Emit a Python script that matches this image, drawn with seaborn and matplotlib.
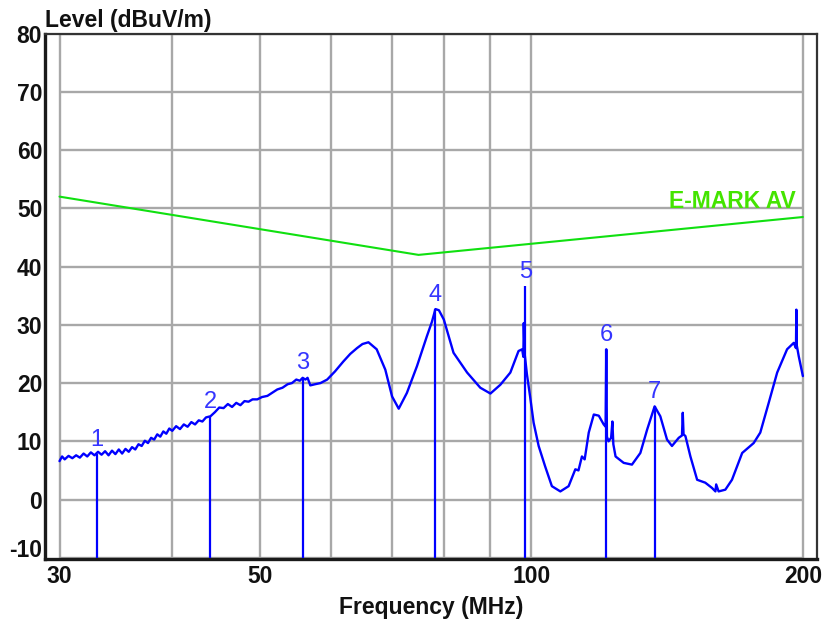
import numpy as np
import pandas as pd
import matplotlib
matplotlib.use("Agg")
import matplotlib.pyplot as plt
import matplotlib.transforms as mtransforms
import seaborn as sns

# ---- data ----
trace_freq = [30.0, 30.2, 30.4, 30.7, 31.0, 31.3, 31.6, 31.9, 32.2, 32.5, 32.8,
              33.1, 33.4, 33.7, 34.0, 34.3, 34.6, 34.9, 35.2, 35.5, 35.8, 36.1,
              36.4, 36.7, 37.0, 37.3, 37.6, 37.9, 38.2, 38.5, 38.8, 39.1, 39.4,
              39.7, 40.0, 40.4, 40.8, 41.2, 41.6, 42.0, 42.4, 42.8, 43.2, 43.6,
              44.1, 44.6, 45.1, 45.6, 46.1, 46.6, 47.1, 47.6, 48.1, 48.6, 49.1,
              49.7, 50.3, 51.0, 51.7, 52.3, 53.0, 53.7, 54.3, 54.9, 55.4, 55.8,
              56.2, 56.5, 56.9, 57.6, 58.4, 59.4, 60.6,
              61.9, 63.0, 64.1, 65.0, 66.0, 67.4, 68.9, 70.1, 71.3, 72.8, 74.7,
              76.6, 77.6, 78.3, 79.0, 80.0, 82.0, 84.9, 87.8, 90.1, 92.4, 94.8,
              96.8, 97.7, 98.0, 98.1, 98.3, 98.9, 99.7, 100.6, 101.9, 103.6,
              105.4, 107.7, 110.0, 111.9, 112.8, 113.8, 114.6, 115.8, 117.3,
              118.8, 120.3, 120.9, 121.1, 121.3, 121.8, 122.6, 123.0, 123.3,
              124.0, 126.6, 129.3, 132.1, 134.4, 137.0, 139.0, 141.4, 143.2,
              145.7, 146.9, 147.2, 147.5, 148.2, 150.1, 152.7, 155.9, 158.6,
              160.0, 160.3, 161.3, 164.1, 166.9, 171.3, 176.4, 179.4, 183.3,
              187.3, 192.1, 195.4, 196.5, 196.7, 196.9, 197.9, 200.0]
trace_level = [6.6, 7.4, 6.9, 7.5, 7.1, 7.6, 7.2, 7.9, 7.4, 8.1, 7.6,
               8.2, 7.7, 8.3, 7.6, 8.4, 7.8, 8.6, 7.9, 8.7, 8.2, 9.0,
               8.6, 9.5, 9.2, 10.1, 9.7, 10.6, 10.3, 11.2, 10.8, 11.7, 11.3,
               12.2, 11.8, 12.6, 12.1, 12.9, 12.5, 13.3, 12.9, 13.6, 13.4, 14.1,
               14.3, 15.0, 15.8, 15.7, 16.4, 15.9, 16.6, 16.2, 16.9, 16.8, 17.2,
               17.2, 17.6, 17.8, 18.4, 18.9, 19.2, 19.8, 20.0, 20.6, 20.4, 20.9,
               20.6, 20.9, 19.6, 19.8, 20.0, 20.6, 22.0,
               23.7, 25.0, 26.0, 26.7, 27.0, 25.8, 22.3, 17.7, 15.6, 18.3, 22.9,
               28.0, 30.5, 32.7, 32.5, 30.9, 25.2, 21.8, 19.2, 18.2, 19.7, 21.8,
               25.5, 25.8, 24.5, 30.3, 25.2, 21.5, 17.7, 13.2, 9.2, 5.7,
               2.3, 1.4, 2.3, 5.2, 5.0, 7.4, 6.9, 11.5, 14.6,
               14.4, 12.9, 12.5, 25.8, 10.8, 10.0, 10.6, 13.4, 9.5,
               7.4, 6.3, 6.0, 8.0, 12.0, 16.0, 14.3, 10.3, 9.2,
               10.6, 11.0, 14.9, 11.2, 10.9, 7.4, 3.4, 2.9, 2.0,
               1.4, 2.6, 1.4, 1.7, 3.4, 8.0, 9.7, 11.5, 16.6,
               21.8, 25.8, 26.9, 26.0, 32.6, 26.5, 24.6, 21.2]

limit_freq = [30.0, 75.0, 200.0]
limit_level = [52.0, 42.0, 48.5]
limit_name = "E-MARK AV"

marker_ids = ["1", "2", "3", "4", "5", "6", "7"]
marker_freq = [33.0, 44.1, 55.8, 78.3, 98.5, 121.1, 137.0]
marker_level = [7.8, 14.3, 20.9, 32.7, 36.6, 25.8, 16.0]

x_ticks = [30, 50, 100, 200]
x_tick_labels = ["30", "50", "100", "200"]
y_ticks = [-10, 0, 10, 20, 30, 40, 50, 60, 70, 80]
grid_freqs = [30, 40, 50, 60, 70, 80, 90, 100, 200]
x_label = "Frequency (MHz)"
y_label = "Level (dBuV/m)"

# ---- style ----
sns.set_style("white")
plt.rcParams["font.family"] = ["Liberation Sans", "DejaVu Sans"]

fig = plt.figure(figsize=(8.24, 6.2), dpi=100)
ax = fig.add_axes([45 / 824, 61 / 620, 772.3 / 824, 525.5 / 620])

ax.set_xscale("log")
ax.set_xlim(28.91, 207.5)
ax.set_ylim(-10.2, 80)

grid_c = "#a8a8a8"
ax.vlines(grid_freqs, -10, 80, colors=grid_c, linewidth=1.7, zorder=1)
ax.hlines(y_ticks, 30, 200, colors=grid_c, linewidth=1.7, zorder=1)

trace_df = pd.DataFrame({"freq": trace_freq, "level": trace_level})
limit_df = pd.DataFrame({"freq": limit_freq, "level": limit_level})

sns.lineplot(data=limit_df, x="freq", y="level", ax=ax, color="#10e010",
             linewidth=1.5, estimator=None, sort=False, zorder=3)
sns.lineplot(data=trace_df, x="freq", y="level", ax=ax, color="#0000ff",
             linewidth=1.7, estimator=None, sort=False, zorder=4)

ax.vlines(marker_freq, -10, marker_level, colors="#0000ff", linewidth=1.6, zorder=4)
for mid, mf, ml in zip(marker_ids, marker_freq, marker_level):
    ax.annotate(mid, xy=(mf, ml), xytext=(0, 6), textcoords="offset points",
                ha="center", va="baseline", fontsize=17, color="#3535ff", zorder=5)

ax.annotate(limit_name, xy=(196.2, 50.0), ha="right", va="baseline",
            fontsize=16.5, fontweight="bold", color="#44e400", zorder=5)

# ticks
ax.set_xticks(x_ticks)
ax.set_xticklabels(x_tick_labels)
ax.xaxis.set_minor_locator(matplotlib.ticker.NullLocator())
ax.set_yticks(y_ticks)
ax.set_yticklabels([str(v) for v in y_ticks])
ax.tick_params(axis="both", length=0, labelsize=16.5, colors="#111111")
ax.tick_params(axis="x", pad=4)
ax.tick_params(axis="y", pad=2)
for lab in ax.get_xticklabels() + ax.get_yticklabels():
    lab.set_fontweight("bold")
# lowest y label sits a little higher in the reference
low = ax.get_yticklabels()[0]
low.set_transform(low.get_transform() +
                  mtransforms.ScaledTranslation(0, 10 / 100, fig.dpi_scale_trans))

ax.set_xlabel(x_label, fontsize=16.5, fontweight="bold", labelpad=6, color="#111111")
ax.set_ylabel("")
ax.annotate(y_label, xy=(0, 1), xycoords="axes fraction", xytext=(0, 5),
            textcoords="offset points", ha="left", va="baseline",
            fontsize=16.5, fontweight="bold", color="#111111")

for side, sp in ax.spines.items():
    sp.set_visible(True)
    if side in ("left", "bottom"):
        sp.set_linewidth(2.4)
        sp.set_color("#1a1a1a")
    else:
        sp.set_linewidth(1.6)
        sp.set_color("#333333")

fig.savefig("out.png", dpi=100)
